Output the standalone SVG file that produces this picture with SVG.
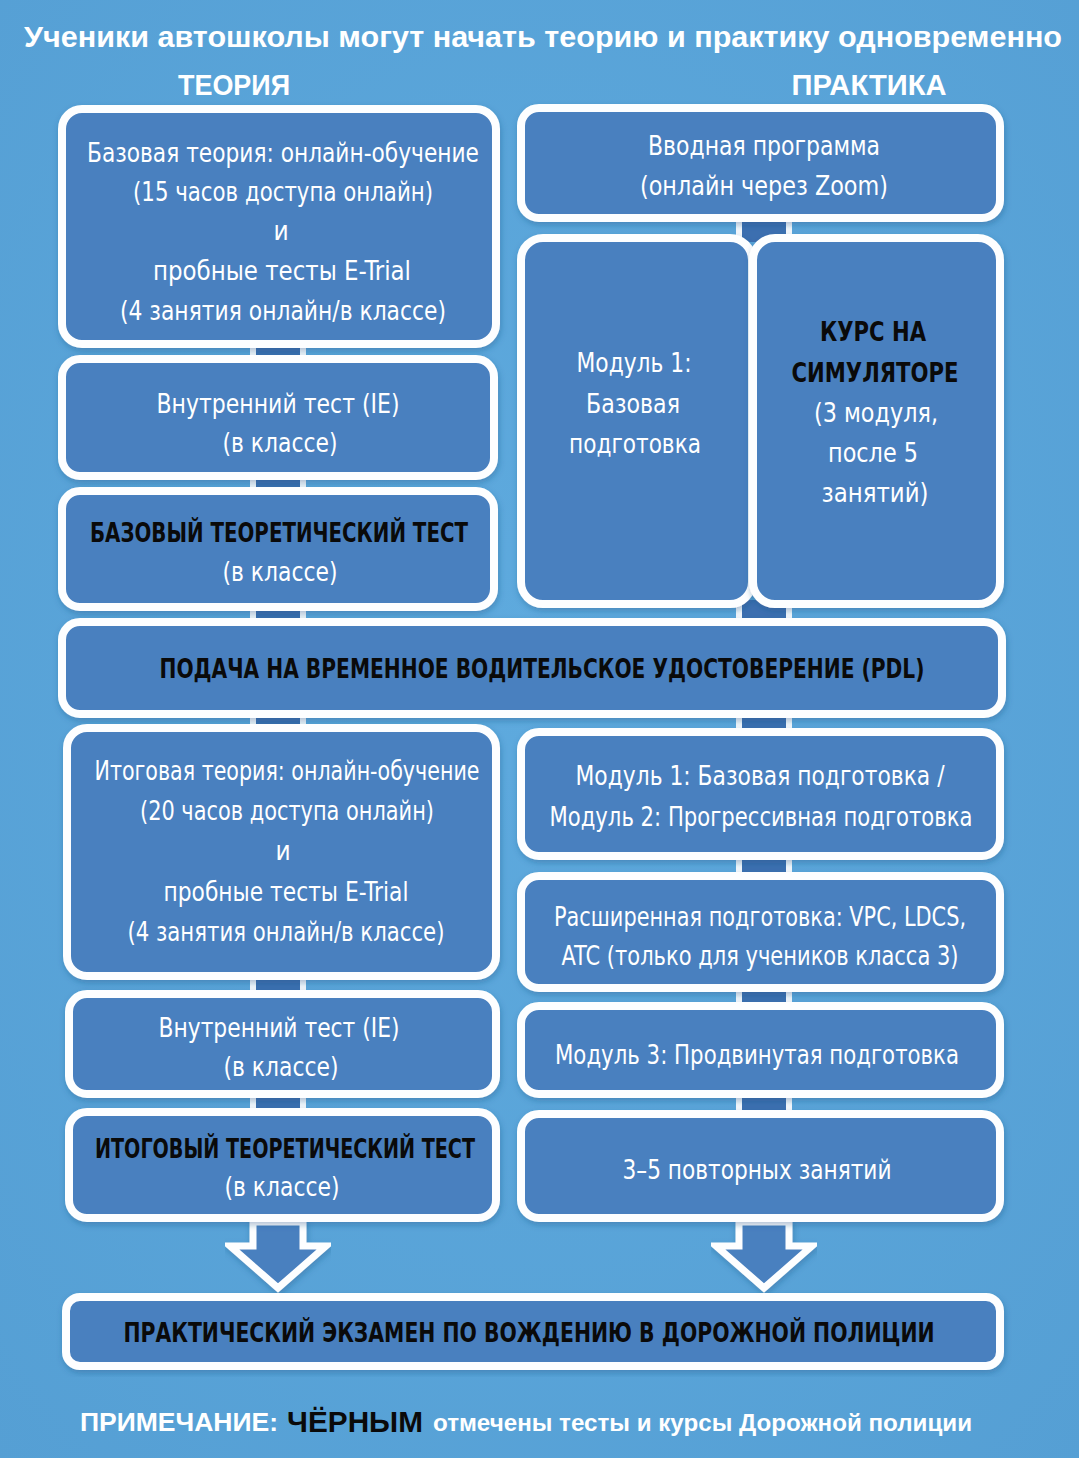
<svg xmlns="http://www.w3.org/2000/svg" width="1079" height="1458" viewBox="0 0 1079 1458">
<defs>
<radialGradient id="bg" cx="50%" cy="45%" r="75%">
<stop offset="0" stop-color="#5eaade"/>
<stop offset="1" stop-color="#559fd4"/>
</radialGradient>
<filter id="sh" x="-5%" y="-10%" width="110%" height="125%">
<feDropShadow dx="1" dy="3" stdDeviation="3" flood-color="#1d4f80" flood-opacity="0.35"/>
</filter>
<style>
.box{fill:#4a80bf;stroke:#fdfeff;stroke-width:8;filter:url(#sh)}
.t{fill:#ffffff;font-family:"DejaVu Sans Condensed","DejaVu Sans",sans-serif;font-stretch:condensed;font-size:26px;text-anchor:middle}
.b{fill:#0a0a0a;font-family:"DejaVu Sans Condensed","DejaVu Sans",sans-serif;font-stretch:condensed;font-weight:bold;font-size:27px;text-anchor:middle}
.h{fill:#ffffff;font-family:"Liberation Sans",Arial,sans-serif;font-weight:bold;text-anchor:middle}
.cw{fill:#f4f8fc}
.cd{fill:#3c6fb0}
.arr{fill:#4a80bf;stroke:#fdfeff;stroke-width:7;stroke-linejoin:miter;filter:url(#sh)}
</style>
</defs>
<rect x="0" y="0" width="1079" height="1458" fill="url(#bg)"/>

<text class="h" x="543" y="47" font-size="30" textLength="1038" lengthAdjust="spacingAndGlyphs">Ученики автошколы могут начать теорию и практику одновременно</text>
<text class="h" x="234" y="95" font-size="29" textLength="112" lengthAdjust="spacingAndGlyphs">ТЕОРИЯ</text>
<text class="h" x="869" y="95" font-size="29" textLength="155" lengthAdjust="spacingAndGlyphs">ПРАКТИКА</text>

<g id="connectors">
<g>
<rect class="cw" x="250" y="340" width="56" height="24"/><rect class="cd" x="256" y="340" width="44" height="24"/>
<rect class="cw" x="250" y="472" width="56" height="24"/><rect class="cd" x="256" y="472" width="44" height="24"/>
<rect class="cw" x="250" y="603" width="56" height="24"/><rect class="cd" x="256" y="603" width="44" height="24"/>
<rect class="cw" x="250" y="710" width="56" height="24"/><rect class="cd" x="256" y="710" width="44" height="24"/>
<rect class="cw" x="250" y="972" width="56" height="26"/><rect class="cd" x="256" y="972" width="44" height="26"/>
<rect class="cw" x="250" y="1090" width="56" height="26"/><rect class="cd" x="256" y="1090" width="44" height="26"/>
<rect class="cw" x="736" y="214" width="56" height="28"/><rect class="cd" x="742" y="214" width="44" height="28"/>
<rect class="cw" x="736" y="600" width="56" height="26"/><rect class="cd" x="742" y="600" width="44" height="26"/>
<rect class="cw" x="736" y="710" width="56" height="28"/><rect class="cd" x="742" y="710" width="44" height="28"/>
<rect class="cw" x="736" y="852" width="56" height="28"/><rect class="cd" x="742" y="852" width="44" height="28"/>
<rect class="cw" x="736" y="984" width="56" height="26"/><rect class="cd" x="742" y="984" width="44" height="26"/>
<rect class="cw" x="736" y="1090" width="56" height="28"/><rect class="cd" x="742" y="1090" width="44" height="28"/>
</g>
<path class="arr" d="M253,1222 L303,1222 L303,1246 L326,1246 L278,1288 L230,1246 L253,1246 Z"/>
<path class="arr" d="M739,1222 L789,1222 L789,1246 L812,1246 L764,1288 L716,1246 L739,1246 Z"/>
</g>

<g id="n-l1">
<rect class="box" x="62" y="109" width="434" height="235" rx="20"/>
<text class="t" x="283" y="162" textLength="392" lengthAdjust="spacingAndGlyphs">Базовая теория: онлайн-обучение</text>
<text class="t" x="283" y="201" textLength="300" lengthAdjust="spacingAndGlyphs">(15 часов доступа онлайн)</text>
<text class="t" x="281" y="240">и</text>
<text class="t" x="282" y="280" textLength="258" lengthAdjust="spacingAndGlyphs">пробные тесты E-Trial</text>
<text class="t" x="283" y="320" textLength="326" lengthAdjust="spacingAndGlyphs">(4 занятия онлайн/в классе)</text>
</g>
<g id="n-l2">
<rect class="box" x="62" y="359" width="432" height="117" rx="18"/>
<text class="t" x="278" y="413" textLength="243" lengthAdjust="spacingAndGlyphs">Внутренний тест (IE)</text>
<text class="t" x="280" y="452" textLength="115" lengthAdjust="spacingAndGlyphs">(в классе)</text>
</g>
<g id="n-l3">
<rect class="box" x="62" y="491" width="432" height="116" rx="18"/>
<text class="b" x="279" y="542" textLength="378" lengthAdjust="spacingAndGlyphs">БАЗОВЫЙ ТЕОРЕТИЧЕСКИЙ ТЕСТ</text>
<text class="t" x="280" y="581" textLength="115" lengthAdjust="spacingAndGlyphs">(в классе)</text>
</g>
<g id="n-r1">
<rect class="box" x="521" y="108" width="479" height="110" rx="18"/>
<text class="t" x="764" y="155" textLength="232" lengthAdjust="spacingAndGlyphs">Вводная программа</text>
<text class="t" x="764" y="195" textLength="248" lengthAdjust="spacingAndGlyphs">(онлайн через Zoom)</text>
</g>
<g id="n-r2a">
<rect class="box" x="521" y="238" width="231" height="366" rx="22"/>
<text class="t" x="634" y="372" textLength="115" lengthAdjust="spacingAndGlyphs">Модуль 1:</text>
<text class="t" x="633" y="413" textLength="94" lengthAdjust="spacingAndGlyphs">Базовая</text>
<text class="t" x="635" y="453" textLength="132" lengthAdjust="spacingAndGlyphs">подготовка</text>
</g>
<g id="n-r2b">
<rect class="box" x="753" y="238" width="247" height="366" rx="22"/>
<text class="b" x="873" y="341" textLength="106" lengthAdjust="spacingAndGlyphs">КУРС НА</text>
<text class="b" x="875" y="382" textLength="167" lengthAdjust="spacingAndGlyphs">СИМУЛЯТОРЕ</text>
<text class="t" x="876" y="422" textLength="124" lengthAdjust="spacingAndGlyphs">(3 модуля,</text>
<text class="t" x="873" y="462" textLength="90" lengthAdjust="spacingAndGlyphs">после 5</text>
<text class="t" x="875" y="502" textLength="107" lengthAdjust="spacingAndGlyphs">занятий)</text>
</g>
<g id="n-pdl">
<rect class="box" x="62" y="622" width="940" height="92" rx="18"/>
<text class="b" x="542" y="678" textLength="765" lengthAdjust="spacingAndGlyphs">ПОДАЧА НА ВРЕМЕННОЕ ВОДИТЕЛЬСКОЕ УДОСТОВЕРЕНИЕ (PDL)</text>
</g>
<g id="n-l4">
<rect class="box" x="67" y="728" width="429" height="248" rx="20"/>
<text class="t" x="287" y="780" textLength="385" lengthAdjust="spacingAndGlyphs">Итоговая теория: онлайн-обучение</text>
<text class="t" x="287" y="820" textLength="294" lengthAdjust="spacingAndGlyphs">(20 часов доступа онлайн)</text>
<text class="t" x="283" y="860">и</text>
<text class="t" x="286" y="901" textLength="245" lengthAdjust="spacingAndGlyphs">пробные тесты E-Trial</text>
<text class="t" x="286" y="941" textLength="317" lengthAdjust="spacingAndGlyphs">(4 занятия онлайн/в классе)</text>
</g>
<g id="n-l5">
<rect class="box" x="69" y="994" width="427" height="100" rx="18"/>
<text class="t" x="279" y="1037" textLength="241" lengthAdjust="spacingAndGlyphs">Внутренний тест (IE)</text>
<text class="t" x="281" y="1076" textLength="115" lengthAdjust="spacingAndGlyphs">(в классе)</text>
</g>
<g id="n-l6">
<rect class="box" x="69" y="1112" width="427" height="106" rx="18"/>
<text class="b" x="285" y="1158" textLength="380" lengthAdjust="spacingAndGlyphs">ИТОГОВЫЙ ТЕОРЕТИЧЕСКИЙ ТЕСТ</text>
<text class="t" x="282" y="1196" textLength="115" lengthAdjust="spacingAndGlyphs">(в классе)</text>
</g>
<g id="n-r3">
<rect class="box" x="521" y="732" width="479" height="124" rx="18"/>
<text class="t" x="760" y="785" textLength="369" lengthAdjust="spacingAndGlyphs">Модуль 1: Базовая подготовка /</text>
<text class="t" x="761" y="826" textLength="423" lengthAdjust="spacingAndGlyphs">Модуль 2: Прогрессивная подготовка</text>
</g>
<g id="n-r4">
<rect class="box" x="521" y="876" width="479" height="112" rx="18"/>
<text class="t" x="760" y="926" textLength="412" lengthAdjust="spacingAndGlyphs">Расширенная подготовка: VPC, LDCS,</text>
<text class="t" x="760" y="965" textLength="397" lengthAdjust="spacingAndGlyphs">ATC (только для учеников класса 3)</text>
</g>
<g id="n-r5">
<rect class="box" x="521" y="1006" width="479" height="88" rx="18"/>
<text class="t" x="757" y="1064" textLength="404" lengthAdjust="spacingAndGlyphs">Модуль 3: Продвинутая подготовка</text>
</g>
<g id="n-r6">
<rect class="box" x="521" y="1114" width="479" height="104" rx="18"/>
<text class="t" x="757" y="1179" textLength="269" lengthAdjust="spacingAndGlyphs">3–5 повторных занятий</text>
</g>
<g id="n-exam">
<rect class="box" x="66" y="1297" width="934" height="69" rx="14"/>
<text class="b" transform="translate(529,1342) scale(0.84,1)" x="0" y="0" font-size="26">ПРАКТИЧЕСКИЙ ЭКЗАМЕН ПО ВОЖДЕНИЮ В ДОРОЖНОЙ ПОЛИЦИИ</text>
</g>

<g id="note">
<text x="80" y="1431" font-family="Liberation Sans, Arial, sans-serif" font-weight="bold" font-size="26" fill="#ffffff" textLength="198" lengthAdjust="spacingAndGlyphs">ПРИМЕЧАНИЕ:</text>
<text x="287" y="1432" font-family="Liberation Sans, Arial, sans-serif" font-weight="bold" font-size="30" fill="#0a0a0a" textLength="136" lengthAdjust="spacingAndGlyphs">ЧЁРНЫМ</text>
<text x="433" y="1431" font-family="Liberation Sans, Arial, sans-serif" font-weight="bold" font-size="24" fill="#ffffff" textLength="539" lengthAdjust="spacingAndGlyphs">отмечены тесты и курсы Дорожной полиции</text>
</g>
</svg>
